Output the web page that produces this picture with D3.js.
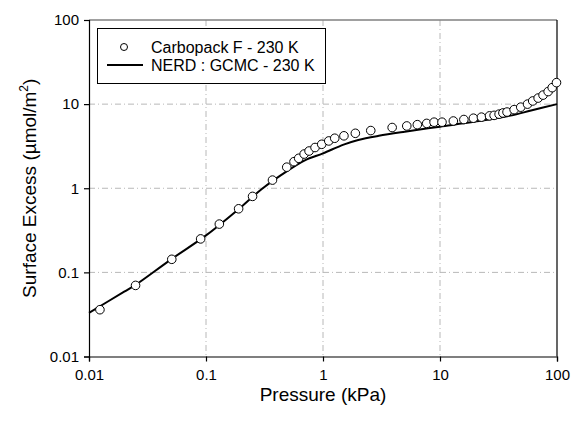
<!DOCTYPE html>
<html><head><meta charset="utf-8">
<script src="https://cdn.jsdelivr.net/npm/d3@7"></script>
<style>body{margin:0;background:#fff}svg{display:block}text{font-family:Arial,"Liberation Sans",sans-serif;fill:#000}</style>
</head><body><svg id="c" width="574" height="421"></svg>
<script>
// Experimental data: Carbopack F - 230 K
const expPressure = [0.0124,0.025,0.051,0.09,0.13,0.19,0.25,0.37,0.49,0.565,0.62,0.69,0.76,0.855,0.975,1.12,1.26,1.51,1.89,2.56,3.9,5.2,6.4,7.7,8.9,10.4,13,16,19.3,22.6,26.5,29,32,34.5,37.4,43,49,56,62,69,76,84,91,99];
const expExcess   = [0.036,0.07,0.143,0.25,0.375,0.57,0.80,1.25,1.78,2.07,2.27,2.55,2.77,3.05,3.33,3.65,3.93,4.2,4.5,4.85,5.27,5.5,5.7,5.9,6.1,6.1,6.3,6.56,6.8,7.0,7.25,7.35,7.6,7.85,8.05,8.6,9.2,10.0,10.9,11.8,12.8,14.1,15.7,18];
// Simulation: NERD : GCMC - 230 K
const simPressure = [0.01,0.02,0.025,0.05,0.1,0.2,0.3,0.5,0.7,1,1.5,2,3,5,10,20,40,60,100];
const simExcess   = [0.033,0.059,0.071,0.142,0.275,0.6,0.98,1.62,2.15,2.6,3.3,3.75,4.2,4.7,5.4,6.2,7.3,8.4,10];
const xTicks = [0.01,0.1,1,10,100];
const yTicks = [0.01,0.1,1,10,100];
const xTickLabels = ["0.01","0.1","1","10","100"];
const yTickLabels = ["0.01","0.1","1","10","100"];
const legendLabels = ["Carbopack F - 230 K","NERD : GCMC - 230 K"];

const svg = d3.select("#c");
const L=89, R=557, T=20, B=356.5;
const x = d3.scaleLog().domain([0.01,100]).range([L,R]);
const y = d3.scaleLog().domain([0.01,100]).range([B,T]);

// gridlines
const grid = svg.append("g");
[0.1,1,10].forEach(v=>{
  grid.append("line").attr("x1",x(v)).attr("x2",x(v)).attr("y1",T).attr("y2",B)
    .attr("stroke","#b8b8b8").attr("stroke-width",1).attr("stroke-dasharray","6,3,1,3");
  grid.append("line").attr("y1",y(v)).attr("y2",y(v)).attr("x1",L).attr("x2",R)
    .attr("stroke","#b8b8b8").attr("stroke-width",1).attr("stroke-dasharray","6,3,1,3");
});
// frame
svg.append("line").attr("x1",L).attr("x2",R).attr("y1",T).attr("y2",T).attr("stroke","#808080").attr("stroke-width",1.5);
svg.append("line").attr("x1",R).attr("x2",R).attr("y1",T).attr("y2",B).attr("stroke","#000").attr("stroke-width",1.2);

// axes
const xAxis = d3.axisBottom(x).tickValues(xTicks).tickFormat((d,i)=>xTickLabels[i]).tickSizeOuter(0).tickSize(5).tickPadding(8);
const yAxis = d3.axisLeft(y).tickValues(yTicks).tickFormat((d,i)=>yTickLabels[i]).tickSizeOuter(0).tickSize(5).tickPadding(5);
const gx = svg.append("g").attr("transform",`translate(0,${B})`).call(xAxis);
const gy = svg.append("g").attr("transform",`translate(${L},0)`).call(yAxis);
[gx,gy].forEach(g=>{
  g.selectAll("path").attr("stroke","#000").attr("stroke-width",1.2);
  g.selectAll("line").attr("stroke","#000").attr("stroke-width",1.2);
  g.selectAll("text").attr("font-size",15).attr("font-family","Arial, 'Liberation Sans', sans-serif").attr("fill","#000");
});

// simulation line
const line = d3.line().x((d,i)=>x(simPressure[i])).y((d,i)=>y(simExcess[i])).curve(d3.curveCatmullRom.alpha(0.5));
svg.append("path").datum(simExcess).attr("d",line).attr("fill","none").attr("stroke","#000").attr("stroke-width",2);

// experimental points
svg.append("g").selectAll("circle").data(expExcess).join("circle")
  .attr("cx",(d,i)=>x(expPressure[i])).attr("cy",d=>y(d)).attr("r",4.3)
  .attr("fill","#fff").attr("stroke","#000").attr("stroke-width",1);

// legend
const lg = svg.append("g");
lg.append("rect").attr("x",97.5).attr("y",28.5).attr("width",228).attr("height",55).attr("fill","#fff").attr("stroke","#000").attr("stroke-width",1);
lg.append("circle").attr("cx",124).attr("cy",47).attr("r",3.5).attr("fill","#fff").attr("stroke","#000");
lg.append("line").attr("x1",107).attr("x2",143).attr("y1",65).attr("y2",65).attr("stroke","#000").attr("stroke-width",2);
lg.selectAll("text.lt").data(legendLabels).join("text").attr("class","lt")
  .attr("x",151).attr("y",(d,i)=>47+i*18).attr("dy","0.35em").attr("font-size",16).text(d=>d);

// titles
svg.append("text").attr("x",(L+R)/2).attr("y",401).attr("text-anchor","middle").attr("font-size",19).text("Pressure (kPa)");
const yt = svg.append("text").attr("transform",`translate(36,${(T+B)/2}) rotate(-90)`).attr("text-anchor","middle").attr("font-size",19);
yt.append("tspan").text("Surface Excess (µmol/m");
yt.append("tspan").attr("font-size",12).attr("dy",-8).text("2");
yt.append("tspan").attr("dy",8).text(")");
</script></body></html>
